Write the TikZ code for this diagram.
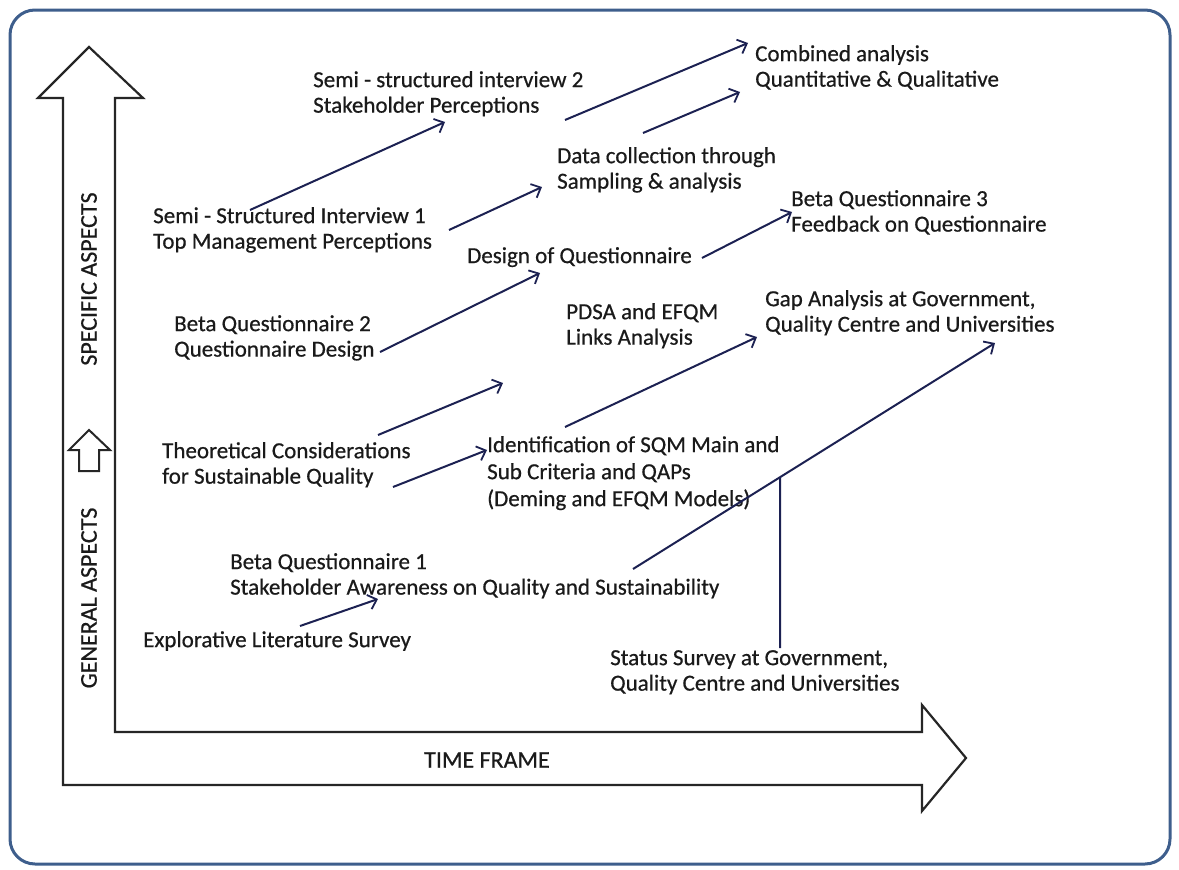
\documentclass[tikz,border=0pt]{standalone}
\usepackage{fontspec}
\setmainfont{Carlito}
\newfontfamily\lblfont{Carlito}[FakeBold=0.6]
\usetikzlibrary{arrows.meta}
\definecolor{arrowc}{HTML}{1C2152}
\definecolor{framec}{HTML}{3E5E8C}
\definecolor{textc}{HTML}{1A1A1A}
\begin{document}
\begin{tikzpicture}[x=1pt,y=-1pt,
  lbl/.style={anchor=north west, inner sep=0pt, align=left, font=\lblfont\fontsize{23}{25.5}\selectfont, text=textc},
  axislbl/.style={inner sep=0pt, font=\lblfont\fontsize{24}{26}\selectfont, text=textc},
  conn/.style={draw=arrowc, line width=2pt, -{Straight Barb[length=8pt,width=15pt,line width=1.8pt]}},
  plainconn/.style={draw=arrowc, line width=2pt},
  bigarrow/.style={draw=black!85, line width=2.2pt, line join=miter, fill=white}]
\useasboundingbox (0,0) rectangle (1179,870);
\draw[draw=framec, line width=3pt, rounded corners=25pt] (10,10) rectangle (1170,864);

% axes
\draw[bigarrow] (63,785) -- (63,98) -- (38,98) -- (89,47) -- (143,98) -- (115,98) -- (115,732)
  -- (922,732) -- (922,705) -- (966,758) -- (922,811) -- (922,785) -- cycle;
\draw[bigarrow, line width=2pt] (79,471) -- (79,450) -- (69,450) -- (89,430) -- (110,450) -- (99,450) -- (99,471) -- cycle;
\node[axislbl, rotate=90] (spec) at (89,279) {SPECIFIC ASPECTS};
\node[axislbl, rotate=90] (gen) at (89,598) {GENERAL ASPECTS};
\node[axislbl] (time) at (487,760) {TIME FRAME};

% labels
\node[lbl] (semi2) at (313,71) {Semi - structured interview 2\\Stakeholder Perceptions};
\node[lbl] (comb) at (755,45) {Combined analysis\\Quantitative \& Qualitative};
\node[lbl] (data) at (557,147) {Data collection through\\Sampling \& analysis};
\node[lbl] (semi1) at (153,207) {Semi - Structured Interview 1\\Top Management Perceptions};
\node[lbl] (beta3) at (791,190) {Beta Questionnaire 3\\Feedback on Questionnaire};
\node[lbl] (design) at (467,247) {Design of Questionnaire};
\node[lbl] (beta2) at (174,315) {Beta Questionnaire 2\\Questionnaire Design};
\node[lbl] (pdsa) at (566,303) {PDSA and EFQM\\Links Analysis};
\node[lbl] (gap) at (765,290) {Gap Analysis at Government,\\Quality Centre and Universities};
\node[lbl] (theo) at (162,442) {Theoretical Considerations\\for Sustainable Quality};
\node[lbl, font=\lblfont\fontsize{23}{27}\selectfont] (ident) at (487,436) {Identification of SQM Main and\\Sub Criteria and QAPs\\(Deming and EFQM Models)};
\node[lbl] (beta1) at (230,553) {Beta Questionnaire 1\\Stakeholder Awareness on Quality and Sustainability};
\node[lbl] (explo) at (143,631) {Explorative Literature Survey};
\node[lbl] (status) at (610,650) {Status Survey at Government,\\Quality Centre and Universities};

% connector end points
\coordinate (a1) at (300,626); \coordinate (a2) at (378,599);
\coordinate (b1) at (633,569); \coordinate (b2) at (995,343);
\coordinate (c1) at (378,435); \coordinate (c2) at (503,383);
\coordinate (d1) at (393,487); \coordinate (d2) at (487,450);
\coordinate (e1) at (565,427); \coordinate (e2) at (757,337);
\coordinate (f1) at (380,352); \coordinate (f2) at (540,273);
\coordinate (g1) at (702,258); \coordinate (g2) at (792,212);
\coordinate (h1) at (250,210); \coordinate (h2) at (445,122);
\coordinate (i1) at (449,230); \coordinate (i2) at (542,187);
\coordinate (j1) at (565,120); \coordinate (j2) at (748,43);
\coordinate (k1) at (643,133); \coordinate (k2) at (740,92);
\coordinate (sv) at (780,648); \coordinate (svt) at (780,400);
\coordinate (sj) at (intersection of b1--b2 and sv--svt);

\draw[conn] (a1) -- (a2);
\draw[conn] (b1) -- (b2);
\draw[plainconn] (sv) -- (sj);
\draw[conn] (c1) -- (c2);
\draw[conn] (d1) -- (d2);
\draw[conn] (e1) -- (e2);
\draw[conn] (f1) -- (f2);
\draw[conn] (g1) -- (g2);
\draw[conn] (h1) -- (h2);
\draw[conn] (i1) -- (i2);
\draw[conn] (j1) -- (j2);
\draw[conn] (k1) -- (k2);
\end{tikzpicture}
\end{document}
